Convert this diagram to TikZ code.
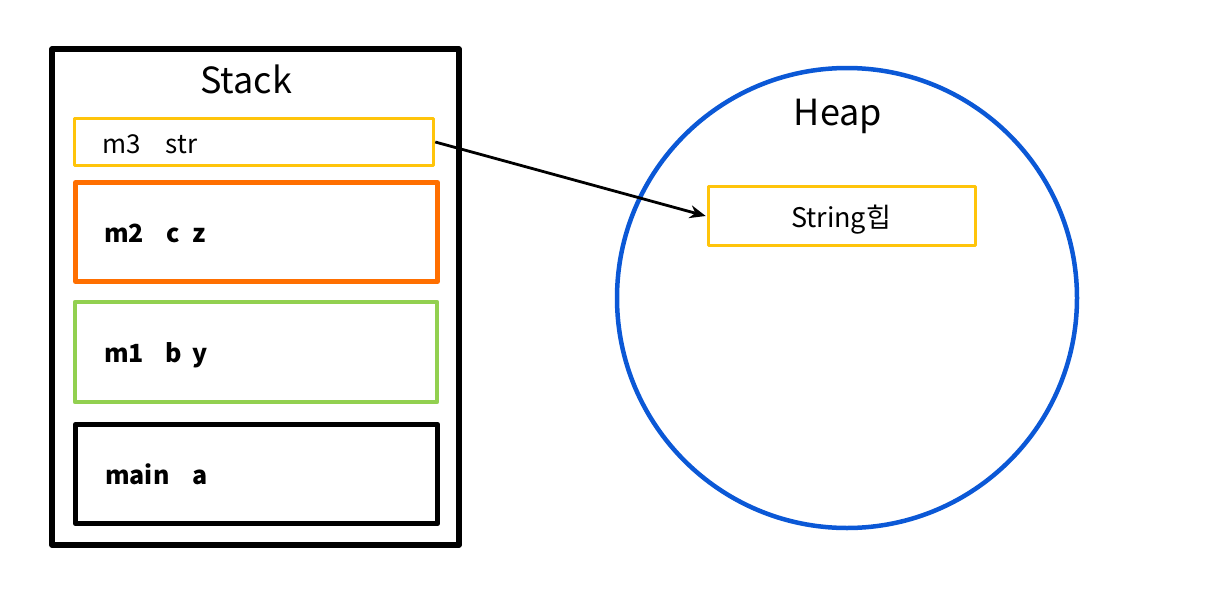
\documentclass[tikz,border=0pt]{standalone}
\usepackage{fontspec}
\setmainfont{Noto Sans CJK KR}
\usetikzlibrary{arrows.meta}
\definecolor{cyellow}{HTML}{FFC40A}
\definecolor{corange}{HTML}{FF6F00}
\definecolor{cgreen}{HTML}{92D050}
\definecolor{cblue}{HTML}{0B58D6}
\tikzset{
  frame/.style={draw, rectangle, inner sep=0pt, line join=round},
  lbl/.style={anchor=base west, inner sep=0pt, font=\fontsize{25}{30}\selectfont\bfseries},
  ttl/.style={anchor=base, inner sep=0pt, font=\fontsize{36}{42}\selectfont},
}
\begin{document}
\begin{tikzpicture}[x=1pt,y=-1pt]
\useasboundingbox (0,0) rectangle (1215,589);
% stack
\node[frame, line width=5.5pt, minimum width=407pt, minimum height=496pt] (stack) at (255.5,297) {};
\node[ttl] (stacktitle) at (246,93) {Stack};
\node[frame, draw=cyellow, line width=3.5pt, minimum width=359pt, minimum height=47pt] (m3) at (254,142) {};
\node[lbl, font=\fontsize{26}{30}\selectfont] (m3t) at (102,153) {m3\hspace{25pt}str};
\node[frame, draw=corange, line width=5pt, minimum width=362pt, minimum height=99pt] (m2) at (256.5,232) {};
\node[lbl] (m2t) at (104,242) {m2\hspace{22pt}c\hspace{13pt}z};
\node[frame, draw=cgreen, line width=4.5pt, minimum width=362pt, minimum height=100pt] (m1) at (256,352) {};
\node[lbl] (m1t) at (104,362) {m1\hspace{21pt}b\hspace{11pt}y};
\node[frame, line width=5.5pt, minimum width=362pt, minimum height=99pt] (mainb) at (256.5,474) {};
\node[lbl] (maint) at (105,484) {main\hspace{23pt}a};
% heap
\node[draw=cblue, circle, line width=4.5pt, minimum size=460pt, inner sep=0pt] (heap) at (847,298) {};
\node[ttl] (heaptitle) at (838,125) {Heap};
\node[frame, draw=cyellow, line width=3.5pt, minimum width=267pt, minimum height=59pt] (str) at (842,216) {};
\node[anchor=base, inner sep=0pt, font=\fontsize{27}{30}\selectfont] (strt) at (841,227) {String힙};
% arrow
\draw[line width=2.8pt, -{Stealth[length=16pt,width=13pt]}] (m3.east) -- ([xshift=-1pt]str.west);
\end{tikzpicture}
\end{document}
